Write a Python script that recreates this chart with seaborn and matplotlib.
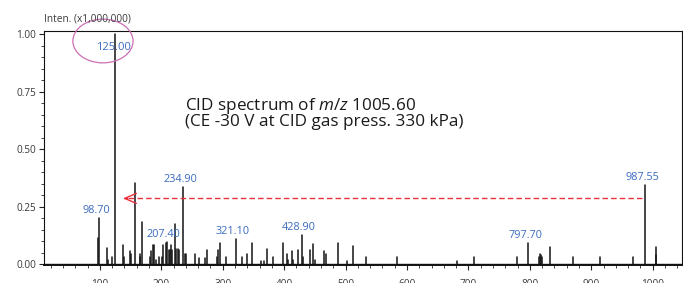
import matplotlib
matplotlib.use('Agg')
import matplotlib.pyplot as plt
from matplotlib.patches import Ellipse
from matplotlib.ticker import MultipleLocator
import numpy as np
import pandas as pd
import seaborn as sns

sns.set_theme(style='ticks')
plt.rcParams['font.family'] = ['Open Sans', 'DejaVu Sans']
plt.rcParams['mathtext.fontset'] = 'custom'
plt.rcParams['mathtext.rm'] = 'Open Sans'
plt.rcParams['mathtext.it'] = 'Open Sans:italic'

# peak list (m/z, intensity x1,000,000)
mz = [96.2, 98.7, 111, 113, 119, 125.0, 137.5, 139.6, 149, 151, 156.5, 165, 166,
      168, 181.4, 184, 186, 188, 192, 197, 201, 203, 207.4, 209.6, 212, 214, 216,
      218, 222, 224.4, 226.6, 229, 234.9, 238, 240, 254.7, 261, 271, 275, 290,
      293, 296, 306, 321.1, 332, 339.6, 347.5, 361.6, 367, 371.5, 381, 397.5,
      404, 406, 412, 415, 422, 428.9, 431, 442, 447.6, 450, 465, 467.6, 487.5,
      503, 511.5, 532.7, 583, 681, 709, 778.6, 797.7, 814.4, 816, 817.6, 820.4,
      833, 870, 914, 968, 987.55, 1004.5, 1006]
inten = [0.113, 0.200, 0.070, 0.020, 0.030, 1.000, 0.085, 0.030, 0.058, 0.043,
         0.354, 0.043, 0.030, 0.185, 0.030, 0.058, 0.085, 0.085, 0.020, 0.030,
         0.030, 0.085, 0.094, 0.097, 0.060, 0.060, 0.085, 0.060, 0.173, 0.065,
         0.065, 0.060, 0.335, 0.043, 0.043, 0.043, 0.025, 0.025, 0.060, 0.030,
         0.060, 0.090, 0.030, 0.108, 0.030, 0.043, 0.090, 0.015, 0.015, 0.068,
         0.030, 0.090, 0.043, 0.020, 0.058, 0.020, 0.060, 0.128, 0.030, 0.060,
         0.087, 0.020, 0.058, 0.045, 0.090, 0.015, 0.077, 0.030, 0.030, 0.015,
         0.030, 0.030, 0.090, 0.030, 0.043, 0.040, 0.030, 0.075, 0.030, 0.030,
         0.030, 0.343, 0.074, 0.040]

label_mz = [98.70, 125.00, 207.40, 234.90, 321.10, 428.90, 797.70, 987.55]
label_h = [0.200, 1.000, 0.094, 0.335, 0.108, 0.128, 0.090, 0.343]

# stick table: each peak is a line from the baseline to its top
sticks = pd.DataFrame({
    'mz': np.repeat(mz, 2),
    'inten': np.ravel([[0.0, h] for h in inten]),
    'peak': np.repeat(np.arange(len(mz)), 2),
})

fig = plt.figure(figsize=(6.83, 2.83), dpi=100)
ax = fig.add_axes([0.0644, 0.064, 0.9336, 0.826])

sns.lineplot(data=sticks, x='mz', y='inten', units='peak', estimator=None,
             color='#141414', lw=1.1, ax=ax, legend=False)

ax.set_xlim(9, 1047)
ax.set_ylim(-0.003, 1.013)
ax.set_xlabel('')
ax.set_ylabel('')
ax.xaxis.set_major_locator(MultipleLocator(100))
ax.xaxis.set_minor_locator(MultipleLocator(20))
ax.yaxis.set_major_locator(MultipleLocator(0.25))
ax.yaxis.set_minor_locator(MultipleLocator(0.05))
ax.yaxis.set_major_formatter(matplotlib.ticker.FormatStrFormatter('%.2f'))
ax.tick_params(which='major', length=3.5, width=0.8, labelsize=7.2,
               labelcolor='#3a3a3a', color='#222222', pad=2)
ax.tick_params(axis='x', which='major', pad=6.5)
ax.tick_params(which='minor', length=2, width=0.6, color='#222222')
for s in ax.spines.values():
    s.set_color('#111111')
    s.set_linewidth(0.8)
ax.spines['bottom'].set_linewidth(1.4)
ax.axhline(0, color='#111111', lw=1.0, zorder=1)

# peak labels
for x, h in zip(label_mz, label_h):
    if h >= 1.0:
        ax.annotate('%.2f' % x, xy=(x, h), xytext=(-1, -9.5), textcoords='offset points',
                    ha='center', va='center', fontsize=8, color='#3b6bbf')
    else:
        ax.annotate('%.2f' % x, xy=(x, h), xytext=(-2, 1.5), textcoords='offset points',
                    ha='center', va='bottom', fontsize=7.8, color='#3b6bbf')

# highlight ellipse around base peak label
ax.add_patch(Ellipse((105, 0.97), 98, 0.19, fill=False, ec='#cc6fb5', lw=0.9,
                     clip_on=False, zorder=5))

# dashed red arrow from 987.55 to 125
ax.plot([982, 140], [0.286, 0.286], ls=(0, (4, 2.2)), color='#e8323c', lw=1.0)
ax.annotate('', xy=(133, 0.286), xytext=(150, 0.286),
            arrowprops=dict(arrowstyle='->, head_length=0.7, head_width=0.3',
                            color='#e8323c', lw=1.0))

ax.text(238, 0.671, 'CID spectrum of $\\mathit{m/z}$ 1005.60', fontsize=12.3,
        color='#1a1a1a', ha='left', va='baseline')
ax.text(238, 0.600, '(CE -30 V at CID gas press. 330 kPa)', fontsize=12.3,
        color='#1a1a1a', ha='left', va='baseline')

ax.text(0.98, -0.095, '$\\mathit{m/z}$', transform=ax.transAxes, fontsize=7.2,
        color='#3a3a3a', ha='left', va='top')
fig.text(0.0644, 0.932, 'Inten. (x1,000,000)', fontsize=7.3, color='#3a3a3a',
         ha='left', va='center')

fig.savefig('out.png', dpi=100)
